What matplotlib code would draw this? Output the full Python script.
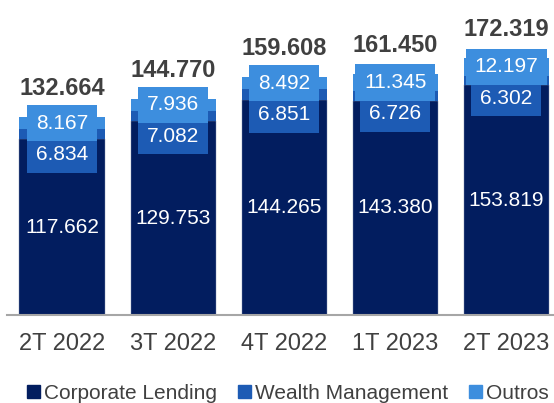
import matplotlib
matplotlib.use("Agg")
import matplotlib.pyplot as plt
import matplotlib.patches as patches
import numpy as np

plt.rcParams['font.family'] = ['Liberation Sans', 'DejaVu Sans']

# data
periods = ["2T 2022", "3T 2022", "4T 2022", "1T 2023", "2T 2023"]
corporate = [117.662, 129.753, 144.265, 143.380, 153.819]
wealth = [6.834, 7.082, 6.851, 6.726, 6.302]
outros = [8.167, 7.936, 8.492, 11.345, 12.197]
totals = [132.664, 144.770, 159.608, 161.450, 172.319]
series_names = ["Corporate Lending", "Wealth Management", "Outros"]

colors = ["#021D5F", "#1D5BB4", "#3D8EDE"]
text_grey = "#404040"

def fmt(v):
    return f"{v:,.3f}".replace(",", "")

fig = plt.figure(figsize=(5.54, 4.03), dpi=100)
ax = fig.add_axes([7 / 554, 88 / 403, 547 / 554, 315 / 403])

x = np.arange(len(periods))
width = 0.766
corporate = np.array(corporate)
wealth = np.array(wealth)
outros = np.array(outros)

ax.bar(x, corporate, width, color=colors[0], edgecolor="#8090b0", linewidth=0.3)
ax.bar(x, wealth, width, bottom=corporate, color=colors[1], linewidth=0)
ax.bar(x, outros, width, bottom=corporate + wealth, color=colors[2], linewidth=0)

ax.set_xlim(-0.495, 4.43)
ax.set_ylim(0, 211)

# label offset between stacked small labels (data units)
step = 21

for i in range(len(periods)):
    ax.text(x[i], corporate[i] / 2, fmt(corporate[i]), ha="center", va="center",
            color="white", fontsize=15)
    y_out = corporate[i] + wealth[i] + outros[i] / 2
    ax.text(x[i], y_out - step, fmt(wealth[i]), ha="center", va="center",
            color="white", fontsize=15,
            bbox=dict(boxstyle="square,pad=0.42", fc=colors[1], ec="none"))
    ax.text(x[i], y_out, fmt(outros[i]), ha="center", va="center",
            color="white", fontsize=15,
            bbox=dict(boxstyle="square,pad=0.42", fc=colors[2], ec="none"))
    ax.annotate(fmt(totals[i]), (x[i], totals[i]), xytext=(0, 20.5),
                textcoords="offset points", ha="center", va="center",
                fontsize=17, fontweight="bold", color=text_grey)

ax.set_xticks(x)
ax.set_xticklabels(periods, fontsize=17, color=text_grey)
ax.tick_params(axis="x", length=0, pad=13)
ax.set_yticks([])
for s in ["top", "right", "left"]:
    ax.spines[s].set_visible(False)
ax.spines["bottom"].set_color("#a6a6a6")
ax.spines["bottom"].set_linewidth(1.5)

handles = [patches.Patch(color=c) for c in colors]
fig.legend(handles, series_names, loc="center", bbox_to_anchor=(0.52, 0.024),
           ncol=3, frameon=False, fontsize=15, handlelength=0.62,
           handleheight=0.62, handletextpad=0.2, columnspacing=1.0,
           labelcolor=text_grey, borderaxespad=0, borderpad=0)

fig.savefig("out.png", dpi=100)
